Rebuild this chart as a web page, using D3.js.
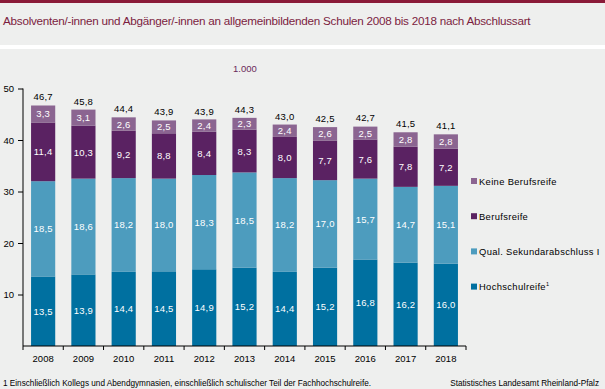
<!DOCTYPE html>
<html>
<head>
<meta charset="utf-8">
<script src="https://cdn.jsdelivr.net/npm/d3@7"></script>
<style>
  body { margin: 0; background: #eeefee; }
  svg { display: block; font-family: "Liberation Sans", Arial, sans-serif; }
</style>
</head>
<body>
<svg id="chart" width="605" height="389"></svg>
<script>
// Data (Tausend)
const years = ["2008", "2009", "2010", "2011", "2012", "2013", "2014", "2015", "2016", "2017", "2018"];
const hochschulreife = [13.5, 13.9, 14.4, 14.5, 14.9, 15.2, 14.4, 15.2, 16.8, 16.2, 16.0];
const qualSek = [18.5, 18.6, 18.2, 18.0, 18.3, 18.5, 18.2, 17.0, 15.7, 14.7, 15.1];
const berufsreife = [11.4, 10.3, 9.2, 8.8, 8.4, 8.3, 8.0, 7.7, 7.6, 7.8, 7.2];
const keineBerufsreife = [3.3, 3.1, 2.6, 2.5, 2.4, 2.3, 2.4, 2.6, 2.5, 2.8, 2.8];
const totals = [46.7, 45.8, 44.4, 43.9, 43.9, 44.3, 43.0, 42.5, 42.7, 41.5, 41.1];
const yTicks = [10, 20, 30, 40, 50];

const seriesKeys = ["hoch", "qual", "beruf", "keine"];
const seriesNames = {
    hoch: "Hochschulreife",
    qual: "Qual. Sekundarabschluss I",
    beruf: "Berufsreife",
    keine: "Keine Berufsreife"
};
const colors = { hoch: "#0070a0", qual: "#4d9cbe", beruf: "#5a2262", keine: "#8b6591" };

const rows = years.map((y, i) => ({
    year: y,
    hoch: hochschulreife[i],
    qual: qualSek[i],
    beruf: berufsreife[i],
    keine: keineBerufsreife[i],
    total: totals[i]
}));

const svg = d3.select("#chart");
const fmt = v => d3.format(".1f")(v).replace(".", ",");

// Header
svg.append("rect").attr("x", 0).attr("y", 0).attr("width", 605).attr("height", 3).attr("fill", "#8a1a38");
svg.append("rect").attr("x", 0).attr("y", 45).attr("width", 605).attr("height", 4).attr("fill", "#ffffff");
svg.append("text")
    .attr("x", 3).attr("y", 25)
    .attr("font-size", 11.7)
    .attr("fill", "#7c1d3f")
    .attr("letter-spacing", -0.25)
    .text("Absolventen/-innen und Abgänger/-innen an allgemeinbildenden Schulen 2008 bis 2018 nach Abschlussart");

// Unit
svg.append("text")
    .attr("x", 233).attr("y", 72)
    .attr("font-size", 9.5)
    .attr("fill", "#6b2a5a")
    .text("1.000");

// Scales
const x = d3.scaleBand().domain(years).range([23, 466]).paddingInner(0.4).paddingOuter(0.2);
const y = d3.scaleLinear().domain([0, 50]).range([346, 88.5]);

const stack = d3.stack().keys(seriesKeys);
const stacked = stack(rows);

// Bars
const layer = svg.append("g").selectAll("g")
    .data(stacked)
    .join("g")
    .attr("fill", d => colors[d.key]);

layer.selectAll("rect")
    .data(d => d)
    .join("rect")
    .attr("x", d => x(d.data.year))
    .attr("width", x.bandwidth())
    .attr("y", d => y(d[1]))
    .attr("height", d => y(d[0]) - y(d[1]));

// Segment labels
layer.selectAll("text")
    .data(d => d.map(p => ({ p, key: d.key })))
    .join("text")
    .attr("x", d => x(d.p.data.year) + x.bandwidth() / 2)
    .attr("y", d => (y(d.p[0]) + y(d.p[1])) / 2 + 3.5)
    .attr("text-anchor", "middle")
    .attr("font-size", 9.5)
    .attr("letter-spacing", 0.2)
    .attr("fill", "#ffffff")
    .text(d => fmt(d.p.data[d.key]));

// Totals
svg.append("g").selectAll("text")
    .data(rows)
    .join("text")
    .attr("x", d => x(d.year) + x.bandwidth() / 2)
    .attr("y", d => y(d.total) - 5)
    .attr("text-anchor", "middle")
    .attr("font-size", 9.5)
    .attr("letter-spacing", 0.2)
    .attr("fill", "#000")
    .text(d => fmt(d.total));

// Y axis
const yAxis = svg.append("g")
    .attr("transform", "translate(23,0)")
    .call(d3.axisLeft(y).tickValues(yTicks).tickSize(5).tickPadding(4).tickFormat(d3.format("d")));
yAxis.select(".domain").attr("d", "M0," + y(0) + "V" + y(50)).attr("stroke", "#000");
yAxis.selectAll("text").attr("font-size", 9.5).attr("font-family", "Liberation Sans, Arial, sans-serif").attr("fill", "#000");

// X axis
const xAxis = svg.append("g")
    .attr("transform", "translate(0," + y(0) + ")")
    .call(d3.axisBottom(x).tickSize(0).tickPadding(9));
xAxis.select(".domain").attr("d", "M23,0H466").attr("stroke", "#000");
xAxis.selectAll("text").attr("font-size", 9.5).attr("font-family", "Liberation Sans, Arial, sans-serif").attr("fill", "#000");
const bounds = years.map(yr => x(yr) - x.step() * x.paddingInner() / 2).concat([466]);
xAxis.selectAll(".sep")
    .data(bounds)
    .join("line")
    .attr("class", "sep")
    .attr("x1", d => d).attr("x2", d => d)
    .attr("y1", 0).attr("y2", 4)
    .attr("stroke", "#000");

// Legend
const legendOrder = ["keine", "beruf", "qual", "hoch"];
const legend = svg.append("g").selectAll("g")
    .data(legendOrder)
    .join("g")
    .attr("transform", (d, i) => "translate(471," + (181 + i * 35.2) + ")");
legend.append("rect")
    .attr("x", 0).attr("y", -3).attr("width", 6).attr("height", 6)
    .attr("fill", d => colors[d]);
const lt = legend.append("text")
    .attr("x", 8).attr("y", 3.5)
    .attr("font-size", 9.4)
    .attr("letter-spacing", 0.35)
    .attr("fill", "#000")
    .text(d => seriesNames[d]);
lt.filter(d => d === "hoch").append("tspan")
    .attr("font-size", 5.5).attr("dy", -4).text("1");

// Footer
svg.append("text")
    .attr("x", 3).attr("y", 386)
    .attr("font-size", 8.2)
    .attr("fill", "#000")
    .text("1 Einschließlich Kollegs und Abendgymnasien,  einschließlich schulischer Teil der Fachhochschulreife.");
svg.append("text")
    .attr("x", 599).attr("y", 386)
    .attr("text-anchor", "end")
    .attr("font-size", 8.2)
    .attr("fill", "#000")
    .text("Statistisches Landesamt Rheinland-Pfalz");
</script>
</body>
</html>
